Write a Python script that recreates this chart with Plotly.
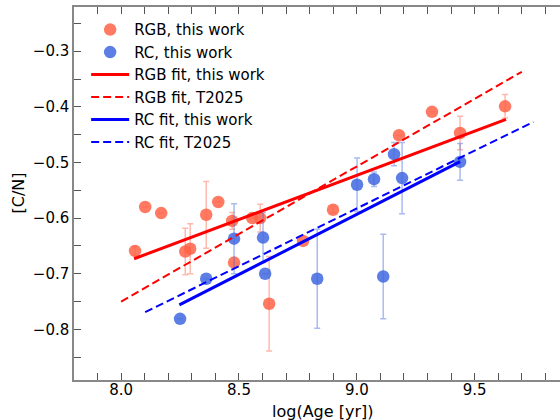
import plotly.graph_objects as go

# RGB, this work
rgb_x = [8.059, 8.102, 8.170, 8.272, 8.293, 8.361, 8.412, 8.471, 8.479, 8.556,
         8.590, 8.628, 8.772, 8.899, 9.179, 9.319, 9.438, 9.629]
rgb_y = [-0.659, -0.580, -0.591, -0.660, -0.655, -0.594, -0.571, -0.605, -0.680, -0.600,
         -0.600, -0.754, -0.641, -0.585, -0.451, -0.409, -0.447, -0.399]
rgb_err = [0.008, 0.0, 0.0, 0.042, 0.045, 0.060, 0.0, 0.015, 0.0, 0.0,
           0.025, 0.085, 0.0, 0.006, 0.0, 0.0, 0.030, 0.021]

# RC, this work
rc_x = [8.250, 8.361, 8.479, 8.602, 8.611, 8.832, 9.001, 9.073, 9.112, 9.158, 9.192, 9.438]
rc_y = [-0.781, -0.709, -0.637, -0.635, -0.700, -0.709, -0.540, -0.530, -0.705, -0.485, -0.528, -0.499]
rc_err = [0.0, 0.0, 0.063, 0.045, 0.0, 0.089, 0.048, 0.013, 0.076, 0.021, 0.064, 0.033]

# Fit lines (endpoints)
rgb_fit_x = [8.055, 9.633]
rgb_fit_y = [-0.673, -0.4225]
rgb_t25_x = [8.0, 9.70]
rgb_t25_y = [-0.750, -0.337]
rc_fit_x = [8.247, 9.438]
rc_fit_y = [-0.756, -0.4985]
rc_t25_x = [8.102, 9.749]
rc_t25_y = [-0.769, -0.427]

RGB_C = "rgba(255,99,71,0.85)"
RC_C = "rgba(65,105,225,0.85)"
RGB_E = "rgba(255,99,71,0.45)"
RC_E = "rgba(65,105,225,0.45)"
FONT = "DejaVu Sans"

L, R, T, B = 74, 0, 7, 40
W, H = 560, 420
PW, PH = W - L - R, H - T - B

fig = go.Figure()
fig.add_trace(go.Scatter(
    x=rgb_x, y=rgb_y, mode="markers", name="RGB, this work",
    marker=dict(size=12.5, color=RGB_C, line=dict(width=0)),
    error_y=dict(type="data", array=rgb_err, visible=True, color=RGB_E, thickness=1.5, width=3)))
fig.add_trace(go.Scatter(
    x=rc_x, y=rc_y, mode="markers", name="RC, this work",
    marker=dict(size=12.5, color=RC_C, line=dict(width=0)),
    error_y=dict(type="data", array=rc_err, visible=True, color=RC_E, thickness=1.5, width=3)))
fig.add_trace(go.Scatter(x=rgb_fit_x, y=rgb_fit_y, mode="lines", name="RGB fit, this work",
                         line=dict(color="red", width=3)))
fig.add_trace(go.Scatter(x=rgb_t25_x, y=rgb_t25_y, mode="lines", name="RGB fit, T2025",
                         line=dict(color="red", width=2, dash="8px,4px")))
fig.add_trace(go.Scatter(x=rc_fit_x, y=rc_fit_y, mode="lines", name="RC fit, this work",
                         line=dict(color="blue", width=3)))
fig.add_trace(go.Scatter(x=rc_t25_x, y=rc_t25_y, mode="lines", name="RC fit, T2025",
                         line=dict(color="blue", width=2, dash="8px,4px")))

fig.update_layout(
    width=W, height=H,
    margin=dict(l=L, r=R, t=T, b=B, autoexpand=False),
    paper_bgcolor="white", plot_bgcolor="white",
    font=dict(family=FONT, size=15, color="black"),
    showlegend=True,
    legend=dict(x=0.025, y=0.983, xanchor="left", yanchor="top", itemwidth=38,
                bgcolor="rgba(0,0,0,0)", font=dict(size=15), tracegroupgap=0),
    annotations=[
        dict(text="[C/N]", x=(18 - L) / PW, xref="paper", xanchor="center",
             y=0.5, yref="paper", yanchor="middle", textangle=-90,
             showarrow=False, font=dict(size=16)),
        dict(text="log(Age [yr])", x=(322 - L) / PW, xref="paper", xanchor="center",
             y=-(411 - (T + PH)) / PH, yref="paper", yanchor="middle",
             showarrow=False, font=dict(size=16)),
    ],
)

fig.update_xaxes(
    range=[7.8, 9.862], dtick=0.5, tick0=8.0, tickformat=".1f", automargin=False,
    ticks="inside", ticklen=7, tickcolor="#555", tickwidth=1, ticklabelstandoff=-5,
    showline=True, linecolor="#888", linewidth=1.5, mirror="ticks",
    showgrid=False, zeroline=False,
    minor=dict(dtick=0.1, tick0=8.0, ticks="inside", ticklen=7, tickcolor="#555", tickwidth=1, showgrid=False),
)
fig.update_yaxes(
    range=[-0.891, -0.2205], dtick=0.1, tick0=-0.3, tickformat=".1f", automargin=False,
    ticks="inside", ticklen=7, tickcolor="#555", tickwidth=1,
    showline=True, linecolor="#888", linewidth=1.5, mirror=False,
    showgrid=False, zeroline=False,
    minor=dict(dtick=0.05, tick0=-0.3, ticks="inside", ticklen=7, tickcolor="#555", tickwidth=1, showgrid=False),
)

fig.write_html("out.html", config={"displayModeBar": False},
               post_script="document.body.style.margin='0px';")
